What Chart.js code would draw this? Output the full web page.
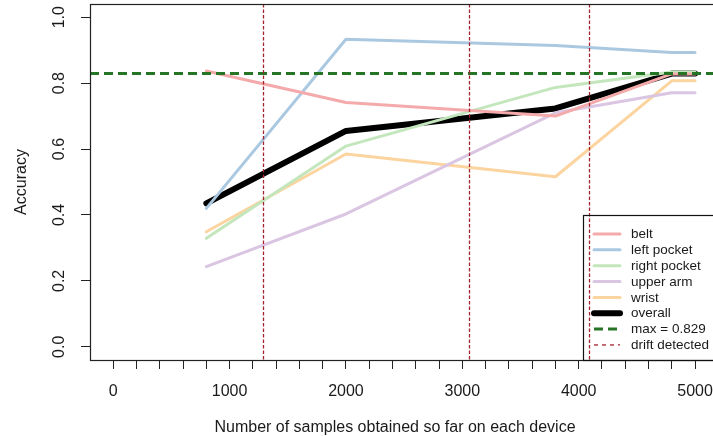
<!DOCTYPE html>
<html>
<head>
<meta charset="utf-8">
<script src="https://cdn.jsdelivr.net/npm/chart.js@4.4.1/dist/chart.umd.min.js"></script>
<style>
  html, body { margin: 0; padding: 0; background: #fff; overflow: hidden; width: 713px; height: 436px; }
  #wrap { position: relative; width: 713px; height: 436px; overflow: hidden; }
  canvas { display: block; }
</style>
</head>
<body>
<div id="wrap"><canvas id="c" width="730" height="436"></canvas></div>
<script>
// Accuracy per device position as more samples arrive
const samples     = [800, 2000, 3800, 4800, 5000];
const belt        = [0.837, 0.741, 0.700, 0.828, 0.828];
const leftPocket  = [0.420, 0.933, 0.914, 0.893, 0.893];
const rightPocket = [0.329, 0.609, 0.787, 0.834, 0.834];
const upperArm    = [0.243, 0.403, 0.710, 0.771, 0.771];
const wrist       = [0.349, 0.585, 0.516, 0.807, 0.807];
const overall     = [0.435, 0.655, 0.723, 0.829, 0.829];

const maxAcc      = 0.829;
const driftPoints = [1290, 3060, 4085];

const yTicks      = [0.0, 0.2, 0.4, 0.6, 0.8, 1.0];
const xLabelTicks = [0, 1000, 2000, 3000, 4000, 5000];
const xMinorStep  = 200;

const FONT = "'Liberation Sans', Arial, Helvetica, sans-serif";
const INK = '#1a1a1a';
const MAX_COLOR = '#267526';
const DRIFT_COLOR = '#a5232f';

const series = [
  { label: 'belt',         values: belt,        color: '#f4aaaa', width: 3 },
  { label: 'left pocket',  values: leftPocket,  color: '#abc8e1', width: 3 },
  { label: 'right pocket', values: rightPocket, color: '#c4e6bc', width: 3 },
  { label: 'upper arm',    values: upperArm,    color: '#dac6e2', width: 3 },
  { label: 'wrist',        values: wrist,       color: '#fcd49f', width: 3 },
  { label: 'overall',      values: overall,     color: '#000000', width: 6 }
];

const datasets = series.map(s => ({
  label: s.label,
  data: samples.map((x, i) => ({ x: x, y: s.values[i] })),
  borderColor: s.color,
  borderWidth: s.width,
  pointRadius: 0,
  tension: 0,
  fill: false,
  borderCapStyle: 'round',
  borderJoinStyle: 'round'
}));

// Reference lines, plot frame, rotated y labels, axis titles and the legend
const decorations = {
  id: 'decorations',
  afterDatasetsDraw(chart) {
    const { ctx, chartArea: ca, scales: { x, y } } = chart;
    ctx.save();
    ctx.beginPath();
    ctx.rect(ca.left, ca.top, ca.right - ca.left, ca.bottom - ca.top);
    ctx.clip();

    // best overall accuracy
    const yMax = y.getPixelForValue(maxAcc);
    ctx.strokeStyle = MAX_COLOR;
    ctx.lineWidth = 3;
    ctx.setLineDash([9, 5]);
    ctx.beginPath();
    ctx.moveTo(ca.left, yMax);
    ctx.lineTo(ca.right, yMax);
    ctx.stroke();

    // drift events
    ctx.strokeStyle = DRIFT_COLOR;
    ctx.lineWidth = 1.3;
    ctx.setLineDash([3.5, 2]);
    driftPoints.forEach(d => {
      const px = Math.round(x.getPixelForValue(d)) + 0.5;
      ctx.beginPath();
      ctx.moveTo(px, ca.top);
      ctx.lineTo(px, ca.bottom);
      ctx.stroke();
    });
    ctx.restore();
  },
  afterDraw(chart) {
    const { ctx, chartArea: ca, scales: { y } } = chart;
    ctx.save();

    // frame
    ctx.strokeStyle = '#222';
    ctx.lineWidth = 1.2;
    ctx.setLineDash([]);
    ctx.strokeRect(Math.round(ca.left) + 0.5, Math.round(ca.top) + 0.5,
                   Math.round(ca.right - ca.left), Math.round(ca.bottom - ca.top));

    // y tick labels, written upright along the axis
    ctx.fillStyle = INK;
    ctx.font = '16px ' + FONT;
    ctx.textAlign = 'center';
    ctx.textBaseline = 'middle';
    yTicks.forEach(v => {
      ctx.save();
      ctx.translate(60, y.getPixelForValue(v));
      ctx.rotate(-Math.PI / 2);
      ctx.fillText(v.toFixed(1), 0, 0);
      ctx.restore();
    });

    // axis titles
    ctx.save();
    ctx.translate(22, (ca.top + ca.bottom) / 2);
    ctx.rotate(-Math.PI / 2);
    ctx.fillText('Accuracy', 0, 0);
    ctx.restore();
    ctx.textBaseline = 'alphabetic';
    ctx.fillText('Number of samples obtained so far on each device', 395, 431.5);

    // legend
    const lx = 583, ly = 215;
    ctx.strokeStyle = '#111';
    ctx.lineWidth = 1.2;
    ctx.strokeRect(lx + 0.5, ly + 0.5, ca.right - lx, ca.bottom - ly);

    const entries = series.map(s => ({ label: s.label, color: s.color, width: s.width, dash: [] }));
    entries.push({ label: 'max = ' + maxAcc.toFixed(3), color: MAX_COLOR, width: 3, dash: [9, 5] });
    entries.push({ label: 'drift detected', color: DRIFT_COLOR, width: 1.3, dash: [4, 4] });

    ctx.font = '13.5px ' + FONT;
    ctx.textAlign = 'left';
    ctx.textBaseline = 'middle';
    entries.forEach((e, i) => {
      const ry = 234 + i * 15.85;
      ctx.strokeStyle = e.color;
      ctx.lineWidth = e.width;
      ctx.setLineDash(e.dash);
      ctx.lineCap = e.dash.length ? 'butt' : 'round';
      ctx.beginPath();
      ctx.moveTo(594, ry);
      ctx.lineTo(620, ry);
      ctx.stroke();
      ctx.setLineDash([]);
      ctx.fillStyle = INK;
      ctx.fillText(e.label, 631, ry + 0.5);
    });
    ctx.restore();
  }
};

new Chart(document.getElementById('c'), {
  type: 'line',
  data: { datasets },
  options: {
    responsive: false,
    animation: false,
    devicePixelRatio: 1,
    events: [],
    layout: { padding: { left: 0, top: 4, right: 11.7, bottom: 0 } },
    plugins: { legend: { display: false }, tooltip: { enabled: false } },
    scales: {
      x: {
        type: 'linear',
        min: -200,
        max: 5200,
        afterBuildTicks: s => {
          const t = [];
          for (let v = xLabelTicks[0]; v <= xLabelTicks[xLabelTicks.length - 1]; v += xMinorStep) t.push({ value: v });
          s.ticks = t;
        },
        afterFit: s => { s.height = 76; },
        border: { display: false },
        grid: { drawOnChartArea: false, drawTicks: true, tickLength: 9, color: '#222', lineWidth: 1 },
        ticks: {
          autoSkip: false, maxRotation: 0, minRotation: 0, padding: 13,
          color: INK, font: { family: FONT, size: 16 },
          callback: v => xLabelTicks.includes(v) ? String(v) : ''
        }
      },
      y: {
        min: -0.04,
        max: 1.04,
        afterBuildTicks: s => { s.ticks = yTicks.map(v => ({ value: v })); },
        afterFit: s => { s.width = 90; },
        border: { display: false },
        grid: { drawOnChartArea: false, drawTicks: true, tickLength: 9, color: '#222', lineWidth: 1 },
        ticks: { display: false }
      }
    }
  },
  plugins: [decorations]
});
</script>
</body>
</html>
